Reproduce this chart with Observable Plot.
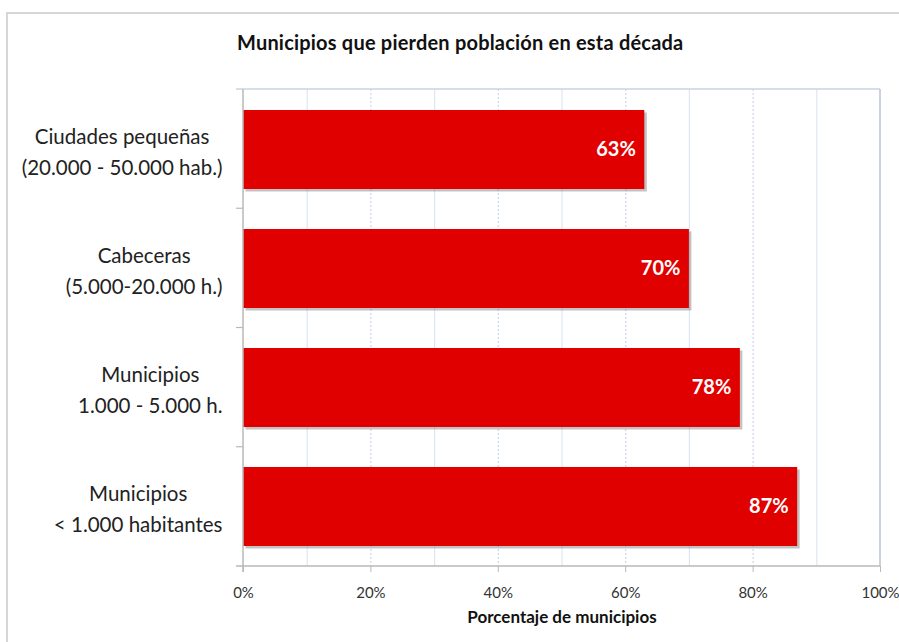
<!DOCTYPE html>
<html>
<head>
<meta charset="utf-8">
<script src="https://cdn.jsdelivr.net/npm/d3@7"></script>
<script src="https://cdn.jsdelivr.net/npm/@observablehq/plot@0.6"></script>
<style>
  html, body { margin: 0; padding: 0; background: #fff; }
  #wrap { position: relative; width: 899px; height: 642px; overflow: hidden; font-family: Lato, "DejaVu Sans", sans-serif; }
  #border { position: absolute; left: 6px; top: 12px; width: 1200px; height: 1200px; border-left: 2px solid #d6d6d6; border-top: 2px solid #d6d6d6; }
  #title { position: absolute; left: 237px; top: 30px; font-size: 20px; font-weight: bold; color: #111; letter-spacing: 0.2px; white-space: nowrap; }
  #chart { position: absolute; left: 0; top: 0; }
</style>
</head>
<body>
<div id="wrap">
  <div id="border"></div>
  <div id="chart"></div>
  <div id="title"></div>
</div>
<script>
const titleText = "Municipios que pierden población en esta década";
const categories = [
  "Ciudades pequeñas\n(20.000 - 50.000 hab.)",
  "Cabeceras\n(5.000-20.000 h.)",
  "Municipios\n1.000 - 5.000 h.",
  "Municipios\n< 1.000 habitantes"
];
const values = [63, 70, 78, 87];
const majorTicks = [0, 20, 40, 60, 80, 100];
const minorGrid = [10, 30, 50, 70, 90];
const dottedGrid = [20, 40, 60, 80];
const axisLabel = "Porcentaje de municipios";

const data = categories.map((c, i) => ({cat: c, value: values[i]}));

document.getElementById("title").textContent = titleText;

const labelSize = 20.5;
const ctx = document.createElement("canvas").getContext("2d");
ctx.font = labelSize + "px Lato";
const blockWidth = c => d3.max(c.split("\n"), l => ctx.measureText(l).width);
const labelGap = 21;

const frameMark = (index, scales, values, dims) => {
  const g = d3.create("svg:g");
  const x0 = scales.x(0), x1 = scales.x(100);
  const yT = dims.marginTop, yB = dims.height - dims.marginBottom;
  const n = categories.length;
  const line = (a, b, c, d, s, w) => g.append("line").attr("x1", a).attr("y1", b).attr("x2", c).attr("y2", d).attr("stroke", s).attr("stroke-width", w);
  line(x0 - 7, yT, x1, yT, "#c9d3e8", 1.5);
  line(x1, yT, x1, yB, "#b7c2dc", 1.5);
  line(x0, yT, x0, yB + 6, "#b9b9b9", 1.5);
  line(x0 - 7, yB, x1, yB, "#b9b9b9", 1.5);
  for (let i = 1; i < n; i++) {
    const y = yT + i * (yB - yT) / n;
    line(x0 - 7, y, x0, y, "#b9b9b9", 1.2);
  }
  return g.node();
};

const chart = Plot.plot({
  width: 899,
  height: 642,
  marginLeft: 243,
  marginRight: 19,
  marginTop: 89,
  marginBottom: 76,
  style: {fontFamily: "Lato, 'DejaVu Sans', sans-serif", background: "transparent"},
  x: {domain: [0, 100], axis: null},
  y: {domain: categories, axis: null, paddingInner: 0.34, paddingOuter: 0.17},
  marks: [
    Plot.ruleX(minorGrid, {stroke: "#dfe6f3", strokeWidth: 1.2}),
    Plot.ruleX(dottedGrid, {stroke: "#cbd6ec", strokeWidth: 1.2, strokeDasharray: "2,2"}),
    Plot.barX(data, {x: "value", y: "cat", fill: "#7a7a7a", fillOpacity: 0.45, dx: 2.5, dy: 2.5}),
    Plot.barX(data, {x: "value", y: "cat", fill: "#e00000"}),
    frameMark,
    Plot.axisX(majorTicks, {
      tickFormat: d => d + "%",
      tickSize: 6,
      tickPadding: 15,
      stroke: "#b9b9b9",
      fill: "#333",
      fontSize: 15,
      label: null
    }),
    Plot.text([axisLabel], {frameAnchor: "bottom", dy: 56, fontSize: 17, fontWeight: "bold", fill: "#111"}),
    Plot.text(data, {x: "value", y: "cat", text: d => d.value + "%", textAnchor: "end", dx: -9, fill: "white", fontSize: 20, fontWeight: "bold"}),
    ...categories.map(c => Plot.text([c], {
      y: d => d,
      frameAnchor: "left",
      text: d => d,
      textAnchor: "middle",
      lineHeight: 31 / labelSize,
      dx: -(labelGap + blockWidth(c) / 2),
      fontSize: labelSize,
      fill: "#222"
    }))
  ]
});
document.getElementById("chart").appendChild(chart);
</script>
</body>
</html>
